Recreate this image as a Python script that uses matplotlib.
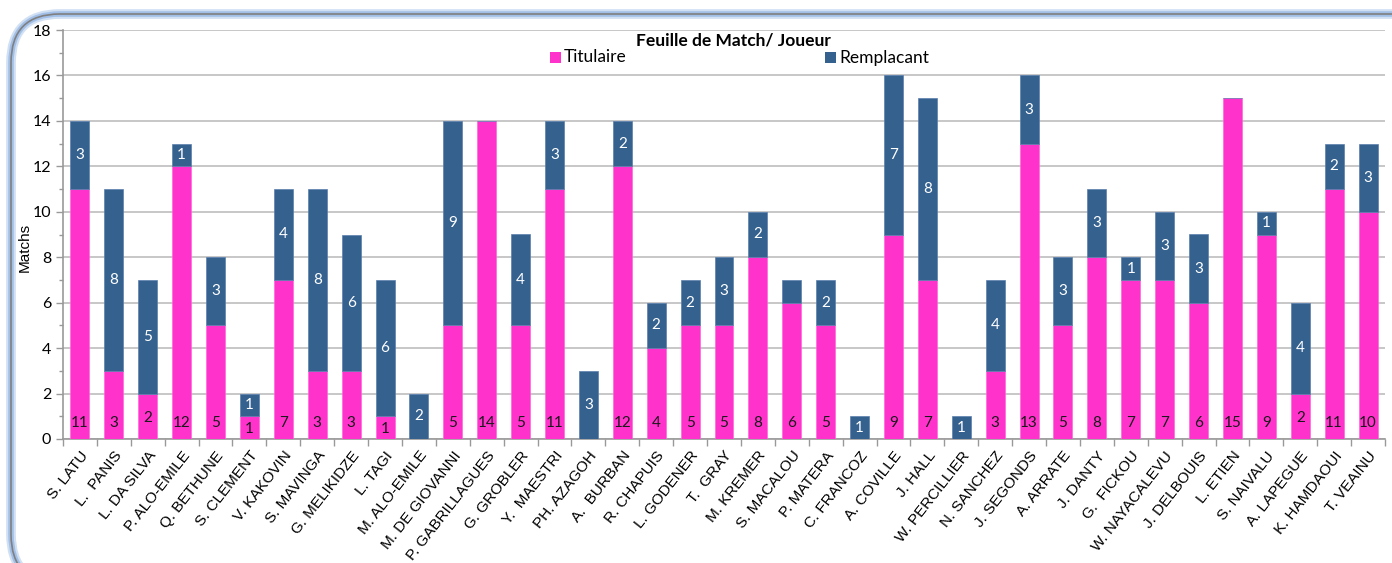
import matplotlib
matplotlib.use("Agg")
import matplotlib.pyplot as plt
from matplotlib.patches import FancyBboxPatch, Rectangle
from matplotlib.ticker import MultipleLocator
import numpy as np

players = ["S. LATU", "L.  PANIS", "L. DA SILVA", "P. ALO-EMILE", "Q. BETHUNE",
           "S. CLEMENT", "V. KAKOVIN", "S. MAVINGA", "G. MELIKIDZE", "L. TAGI",
           "M. ALO-EMILE", "M. DE GIOVANNI", "P. GABRILLAGUES", "G. GROBLER",
           "Y.  MAESTRI", "PH. AZAGOH", "A.  BURBAN", "R. CHAPUIS", "L. GODENER",
           "T.  GRAY", "M. KREMER", "S. MACALOU", "P. MATERA", "C. FRANCOZ",
           "A. COVILLE", "J. HALL", "W. PERCILLIER", "N. SANCHEZ", "J. SEGONDS",
           "A. ARRATE", "J. DANTY", "G.  FICKOU", "W. NAYACALEVU", "J. DELBOUIS",
           "L. ETIEN", "S. NAIVALU", "A. LAPEGUE", "K. HAMDAOUI", "T. VEAINU"]
titulaire = [11, 3, 2, 12, 5, 1, 7, 3, 3, 1, 0, 5, 14, 5, 11, 0, 12, 4, 5, 5,
             8, 6, 5, 0, 9, 7, 0, 3, 13, 5, 8, 7, 7, 6, 15, 9, 2, 11, 10]
remplacant = [3, 8, 5, 1, 3, 1, 4, 8, 6, 6, 2, 9, 0, 4, 3, 3, 2, 2, 2, 3,
              2, 1, 2, 1, 7, 8, 1, 4, 3, 3, 3, 1, 3, 3, 0, 1, 4, 2, 3]
series_names = ["Titulaire", "Remplacant"]
# S. MACALOU's substitute value has no label in the reference
show_rem_label = [True] * len(players)
show_rem_label[21] = False

pink = "#FF33CC"
blue = "#35618F"

W, H = 1392, 563
fig = plt.figure(figsize=(W / 100, H / 100), dpi=100)

# rounded frame with soft blue glow
for lw, col, a in [(7, "#C6D9F1", 0.8), (4, "#9DBCE6", 0.9), (1.2, "#808080", 1.0)]:
    frame = FancyBboxPatch((11 / W, -20 / H), (W + 40) / W, (H - 14 + 20) / H,
                           boxstyle="round,pad=0,rounding_size=0.035",
                           transform=fig.transFigure, facecolor="none",
                           edgecolor=col, linewidth=lw, alpha=a, zorder=0,
                           mutation_aspect=W / H)
    fig.patches.append(frame)

ax = fig.add_axes([63 / W, 1 - 439 / H, (1385 - 63) / W, (439 - 30) / H])
x = np.arange(len(players))
bw = 0.56
ax.bar(x, titulaire, bw, color=pink, edgecolor="#FF66DD", linewidth=0.5,
       zorder=3)
ax.bar(x, remplacant, bw, bottom=titulaire, color=blue, edgecolor="#5A7FAF",
       linewidth=0.5, zorder=3)

lab_font = dict(family=["Lato", "DejaVu Sans"], fontsize=11)
for i, (t, r) in enumerate(zip(titulaire, remplacant)):
    if t > 0:
        if t == 1:
            yy = 0.42
        elif t == 2:
            yy = 0.93
        else:
            yy = 0.7
        ax.text(i, yy, str(t), ha="center", va="center", color="#1a1a1a",
                zorder=4, **lab_font)
    if r > 0 and show_rem_label[i]:
        ax.text(i, t + r / 2, str(r), ha="center", va="center", color="white",
                zorder=4, **lab_font)

ax.set_xlim(-0.5, len(players) - 0.5)
ax.set_ylim(0, 18)
ax.yaxis.set_major_locator(MultipleLocator(2))
ax.yaxis.set_minor_locator(MultipleLocator(1))
ax.grid(axis="y", which="major", color="#BDBDBD", linewidth=1.2, zorder=0)
ax.set_axisbelow(True)

ax.set_xticks(x)
ax.set_xticklabels(players, rotation=52, ha="right", rotation_mode="anchor",
                   fontsize=11, family=["Liberation Sans", "DejaVu Sans"])
ax.tick_params(axis="x", length=0, pad=7)
ax.set_xticks(np.arange(-0.5, len(players), 1), minor=True)
ax.tick_params(axis="x", which="minor", length=5, color="#999999", width=1)
ax.tick_params(axis="y", which="major", length=5, color="#999999", width=1,
               labelsize=11.5)
ax.tick_params(axis="y", which="minor", length=3, color="#999999", width=1)
for lbl in ax.get_yticklabels():
    lbl.set_family(["Lato", "DejaVu Sans"])

for s in ["top", "right"]:
    ax.spines[s].set_visible(False)
for s in ["left", "bottom"]:
    ax.spines[s].set_color("#999999")
    ax.spines[s].set_linewidth(1.2)

fig.text(25 / W, 1 - 247 / H, "Matchs", rotation=90, ha="center", va="center",
         fontsize=11, family=["Liberation Sans", "DejaVu Sans"])

fig.text(733 / W, 1 - 41 / H, "Feuille de Match/ Joueur", ha="center",
         va="center", fontsize=12.5, fontweight="bold",
         family=["Lato", "DejaVu Sans"])

# legend entries
for name, col, xs in zip(series_names, [pink, blue], [550, 825]):
    fig.patches.append(Rectangle((xs / W, 1 - 63 / H), 11 / W, 11 / H,
                                 transform=fig.transFigure, facecolor=col,
                                 edgecolor="none", zorder=5))
    fig.text((xs + 14) / W, 1 - 57.5 / H, name, ha="left", va="center",
             fontsize=12.5, family=["Lato", "DejaVu Sans"])

fig.savefig("out.png", dpi=100, facecolor="white")
